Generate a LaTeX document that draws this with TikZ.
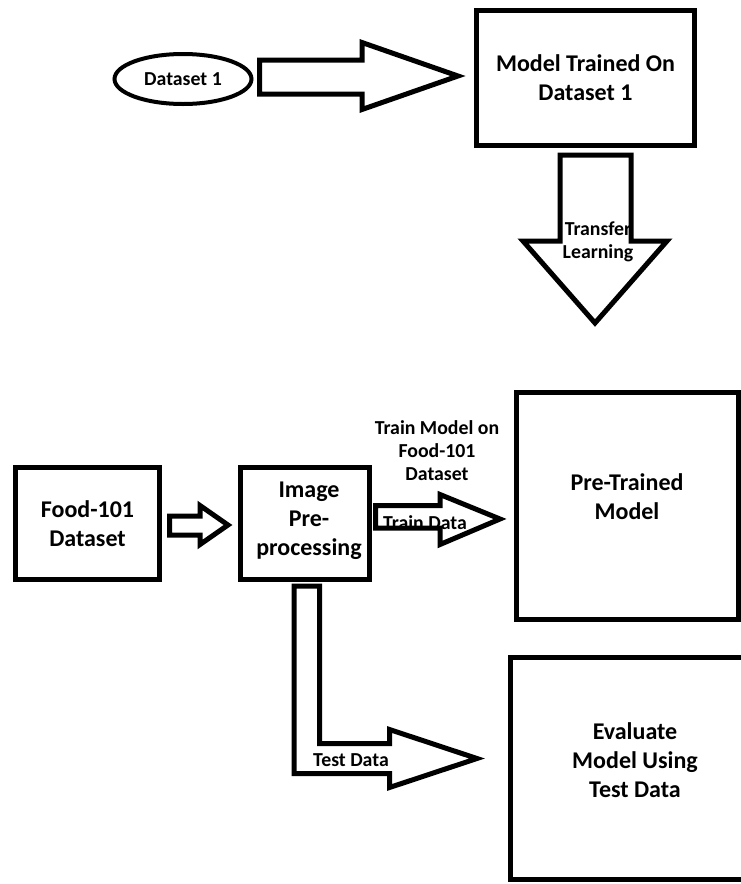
\documentclass[tikz,border=0pt]{standalone}
\usepackage{fontspec}
\setmainfont{Carlito}
\usetikzlibrary{shapes.geometric}

\begin{document}
\begin{tikzpicture}[x=1pt,y=-1pt,
    box/.style={draw,line width=5pt,inner sep=0pt},
    hollow/.style={draw,line width=5pt,line join=miter},
    bigtext/.style={font=\fontsize{24}{29}\selectfont\bfseries,align=center},
    smalltext/.style={font=\fontsize{19.8}{23}\selectfont\bfseries,align=center}]
    \useasboundingbox (0,0) rectangle (741,884);
    \clip (0,0) rectangle (741,884);

    % Dataset 1
    \node[draw,ellipse,line width=4pt,minimum width=137pt,minimum height=50pt,inner sep=0pt,smalltext] (ds1) at (183,79) {Dataset 1};

    % Model trained on dataset 1
    \node[box,bigtext,minimum width=218pt,minimum height=135pt] (mtrain) at (585.5,78) {Model Trained On\\Dataset 1};

    % Food-101 and pre-processing
    \node[box,bigtext,minimum width=144pt,minimum height=112pt] (food) at (87.5,523.5) {Food-101\\Dataset};
    \node[box,minimum width=129pt,minimum height=112pt] (prep) at (305,523.5) {};
    \node[bigtext] (preptxt) at (309,521) {Image\\Pre-\\processing};

    % Pre-trained model
    \node[box,minimum width=222pt,minimum height=227pt] (pretr) at (627,506) {};
    \node[bigtext] (pretrtxt) at (627,497) {Pre-Trained\\Model};

    % Evaluation
    \node[box,minimum width=249pt,minimum height=222pt] (evalm) at (635,768.5) {};
    \node[bigtext] (evaltxt) at (635,760) {Evaluate\\Model Using\\Test Data};

    % Dataset 1 -> model
    \draw[hollow] (259.5,60) -- (362,60) -- (362,42.5) -- (458,76) -- (362,109.5) -- (362,94) -- (259.5,94) -- cycle;

    % Transfer learning
    \node[smalltext] (tl) at (598,241.5) {Transfer\\Learning};
    \draw[hollow] (560,155) -- (631,155) -- (631,241) -- (667,241) -- (595,323) -- (523,241) -- (560,241) -- cycle;

    % Food-101 -> pre-processing
    \draw[hollow] (169.5,516) -- (200,516) -- (200,505.5) -- (228,525) -- (200,544.5) -- (200,535) -- (169.5,535) -- cycle;

    % Train data
    \draw[hollow] (375.5,505.5) -- (440,505.5) -- (440,494.5) -- (500,519) -- (440,544.5) -- (440,528) -- (375.5,528) -- cycle;
    \node[smalltext] (trd) at (425,522.5) {Train Data};
    \node[smalltext] (trm) at (437,451) {Train Model on\\Food-101\\Dataset};

    % Test data
    \draw[hollow] (294,586) -- (319.5,586) -- (319.5,743.5) -- (389.5,743.5) -- (389.5,729.5) -- (477,758.5) -- (389.5,787.5) -- (389.5,773.5) -- (294,773.5) -- cycle;
    \node[smalltext] (ted) at (351,760) {Test Data};
\end{tikzpicture}
\end{document}
